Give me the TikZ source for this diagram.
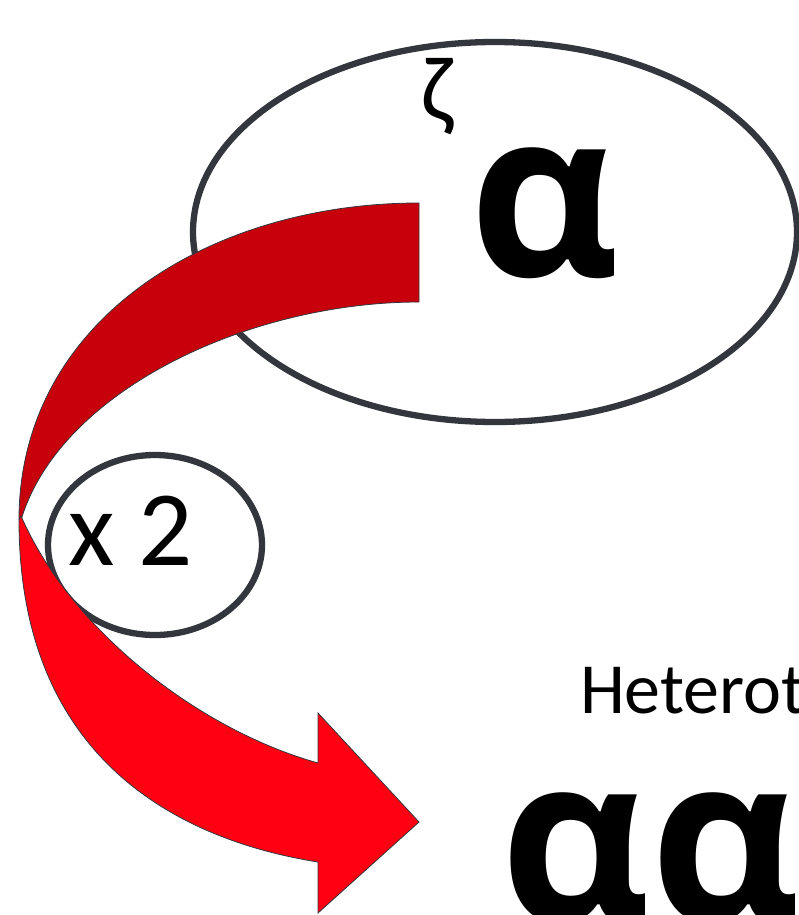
\documentclass[tikz,border=0pt]{standalone}
\usepackage{fontspec}
\setmainfont{Carlito}
\newfontfamily\greekbold{Open Sans}
\usetikzlibrary{shapes.geometric}
\definecolor{edgegray}{HTML}{33373D}
\definecolor{darkred}{HTML}{C8000B}
\definecolor{brightred}{HTML}{FF0012}
\tikzset{
  ring/.style={draw=edgegray, line width=6.3pt, ellipse, inner sep=0pt, outer sep=0pt, fill=white},
  bandpart/.style={draw=edgegray, line width=0.8pt, line join=miter},
  lbl/.style={inner sep=0pt, outer sep=0pt, anchor=base west}
}
\begin{document}
\begin{tikzpicture}[x=1pt,y=-1pt]
\useasboundingbox (0,0) rectangle (799,915);
% big ellipse
\node[ring, minimum width=604pt, minimum height=380pt] (big) at (495,232) {};
% small ellipse
\node[ring, minimum width=214pt, minimum height=180pt] (small) at (155,545) {};
% arrow back part (dark)
\coordinate (topout) at (419,203);
\coordinate (topin) at (419,302);
\coordinate (leftpt) at (19,520);
\fill[darkred] (topout) .. controls (210,203) and (19,320) .. (leftpt)
  .. controls (20,520) and (21,520) .. (21,520)
  .. controls (60,390) and (250,302) .. (topin) -- cycle;
\draw[bandpart] (leftpt) .. controls (19,320) and (210,203) .. (topout) -- (topin)
  .. controls (250,302) and (60,390) .. (21,520);
% arrow front part (bright)
\coordinate (headtop) at (318,713);
\coordinate (tip) at (419,822);
\coordinate (headbot) at (318,913);
\coordinate (shaftin) at (318,763);
\coordinate (shaftout) at (318,862);
\filldraw[bandpart, fill=brightred] (21,516) .. controls (72,632) and (200,730) .. (shaftin)
  -- (headtop) -- (tip) -- (headbot) -- (shaftout)
  .. controls (180,840) and (19,760) .. (19,520) -- cycle;
% texts
\node[lbl] (zeta) at (421,121) {\fontsize{92}{92}\selectfont ζ};
\node[lbl] (alpha) at (469,276) {\fontsize{232}{232}\selectfont\greekbold\bfseries α};
\node[lbl] (times) at (68,565) {\fontsize{107}{107}\selectfont x 2};
\node[lbl] (hetero) at (580,713) {\fontsize{72}{72}\selectfont Heterot};
\node[lbl] (dimer) at (500,921) {\fontsize{232}{232}\selectfont\greekbold\bfseries αα};
\end{tikzpicture}
\end{document}
